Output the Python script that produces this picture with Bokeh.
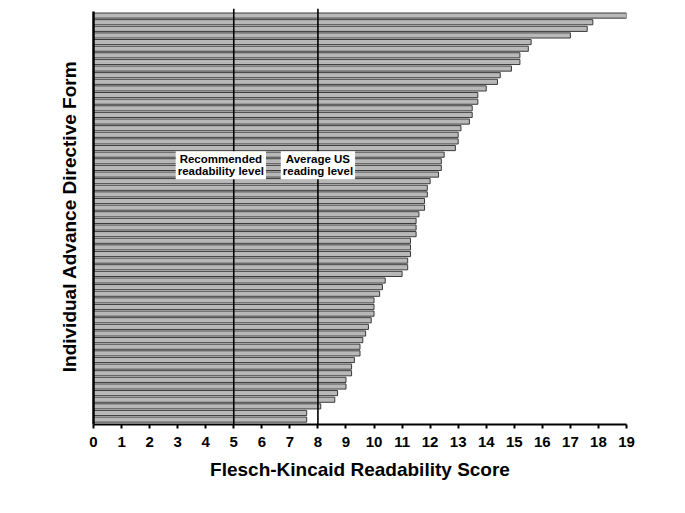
from bokeh.plotting import figure
from bokeh.models import Range1d, FixedTicker, Span, Label, ColumnDataSource
from bokeh.embed import file_html
from bokeh.resources import INLINE

# Flesch-Kincaid scores of the individual advance directive forms, top to bottom
scores = [19.0, 17.8, 17.6, 17.0, 15.6, 15.5, 15.2, 15.2, 14.9, 14.5,
          14.4, 14.0, 13.7, 13.7, 13.5, 13.5, 13.4, 13.1, 13.0, 13.0,
          12.9, 12.5, 12.4, 12.4, 12.3, 12.0, 11.9, 11.9, 11.8, 11.8,
          11.6, 11.5, 11.5, 11.5, 11.3, 11.3, 11.3, 11.2, 11.2, 11.0,
          10.4, 10.3, 10.2, 10.0, 10.0, 10.0, 9.9, 9.8, 9.7, 9.6,
          9.5, 9.5, 9.3, 9.2, 9.2, 9.0, 9.0, 8.7, 8.6, 8.1,
          7.6, 7.6]
x_ticks = list(range(0, 20))
ref_levels = [5, 8]
ref_texts = ["Recommended\nreadability level", "Average US\nreading level"]
ref_label_x = [4.54, 8.0]

n = len(scores)
positions = [n - 1 - i for i in range(n)]
src = ColumnDataSource(dict(y=positions, right=scores))

FONT = "Liberation Sans"

p = figure(frame_width=533, frame_height=416, output_backend="svg",
           toolbar_location=None, min_border_left=93, min_border_right=40,
           min_border_top=8, min_border_bottom=80,
           x_range=Range1d(0, 19), y_range=Range1d(-0.74, n + 0.07))

p.hbar(y="y", left=0, right="right", height=0.78, source=src,
       fill_color="#b8b8b8", line_color="#3a3a3a", line_width=1)

for lv in ref_levels:
    p.add_layout(Span(location=lv, dimension="height", line_color="black",
                      line_width=1.6))

for t, lx in zip(ref_texts, ref_label_x):
    p.add_layout(Label(x=lx, y=38.4, text=t, text_align="center",
                       text_baseline="middle", text_font=FONT,
                       text_font_style="bold", text_font_size="11.5px",
                       text_line_height=1.0, text_color="black",
                       background_fill_color="white", padding=2))

p.grid.visible = False
p.outline_line_color = None

xa = p.xaxis[0]
xa.ticker = FixedTicker(ticks=x_ticks)
xa.minor_tick_line_color = None
xa.axis_line_width = 2
xa.major_tick_line_width = 2
xa.major_tick_in = 0
xa.major_tick_out = 4
xa.major_label_standoff = 8
xa.major_label_text_font = FONT
xa.major_label_text_font_style = "bold"
xa.major_label_text_font_size = "15px"
xa.major_label_text_color = "black"
xa.axis_label = "Flesch-Kincaid Readability Score"
xa.axis_label_text_font = FONT
xa.axis_label_text_font_style = "bold"
xa.axis_label_text_font_size = "19px"
xa.axis_label_text_color = "black"
xa.axis_label_standoff = 9

ya = p.yaxis[0]
ya.ticker = FixedTicker(ticks=[])
ya.minor_tick_line_color = None
ya.major_tick_out = 0
ya.major_tick_in = 0
ya.major_label_text_font_size = "0px"
ya.axis_line_width = 2.5
ya.bounds = (-0.74, n - 0.45)
ya.axis_label = "Individual Advance Directive Form"
ya.axis_label_text_font = FONT
ya.axis_label_text_font_style = "bold"
ya.axis_label_text_font_size = "19px"
ya.axis_label_text_color = "black"
ya.axis_label_standoff = 14

open("out.html", "w").write(file_html(p, INLINE))
